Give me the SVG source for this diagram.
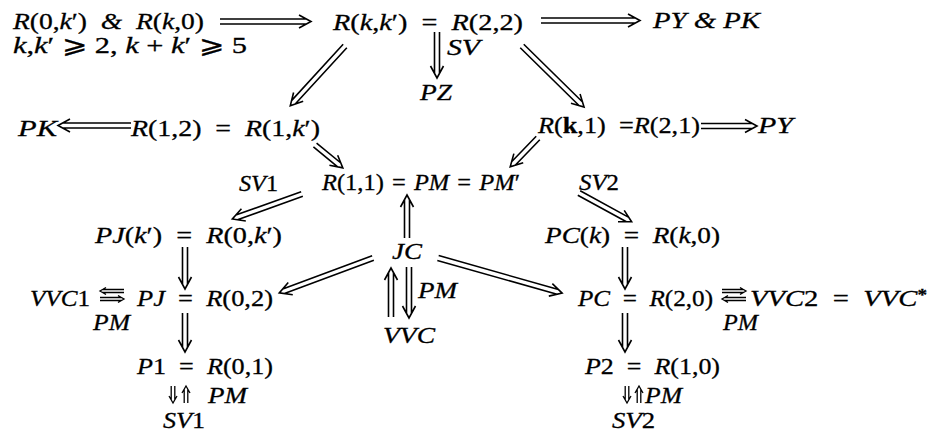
<svg xmlns="http://www.w3.org/2000/svg" width="937" height="433" viewBox="0 0 937 433">
<style>
text{font-family:"Liberation Serif","Times New Roman",serif;font-size:24px;fill:#000;stroke:#000;stroke-width:0.3}
.i{font-style:italic}
.b{font-weight:bold}
.a{fill:none;stroke:#000;stroke-width:1.6}
.s{fill:none;stroke:#000;stroke-width:1.3}
</style>
<rect width="937" height="433" fill="#fff"/>
<g id="n-start">
<text x="13" y="29" textLength="191" lengthAdjust="spacingAndGlyphs"><tspan class="i">R</tspan>(0,<tspan class="i">k</tspan>′)&#8194;<tspan class="i">&amp;</tspan>&#8194;<tspan class="i">R</tspan>(<tspan class="i">k</tspan>,0)</text>
<text x="13" y="53" font-size="23" textLength="234" lengthAdjust="spacingAndGlyphs"><tspan class="i">k</tspan>,<tspan class="i">k</tspan>′ ⩾ 2, <tspan class="i">k</tspan> + <tspan class="i">k</tspan>′ ⩾ 5</text>
</g>
<g id="n-R22"><text x="333" y="30" textLength="190" lengthAdjust="spacingAndGlyphs"><tspan class="i">R</tspan>(<tspan class="i">k</tspan>,<tspan class="i">k</tspan>′)&#8194;=&#8194;<tspan class="i">R</tspan>(2,2)</text></g>
<g id="n-PYPK"><text class="i" x="653" y="28" textLength="107" lengthAdjust="spacingAndGlyphs">PY &amp; PK</text></g>
<g id="n-PZ"><text class="i" x="420" y="100" textLength="32" lengthAdjust="spacingAndGlyphs">PZ</text></g>
<g id="n-PK"><text class="i" x="18" y="136" textLength="39" lengthAdjust="spacingAndGlyphs">PK</text></g>
<g id="n-R12"><text x="131" y="136" textLength="189" lengthAdjust="spacingAndGlyphs"><tspan class="i">R</tspan>(1,2)&#8194;=&#8194;<tspan class="i">R</tspan>(1,<tspan class="i">k</tspan>′)</text></g>
<g id="n-R21"><text x="538" y="133" textLength="162" lengthAdjust="spacingAndGlyphs"><tspan class="i">R</tspan>(<tspan class="b">k</tspan>,1)&#8194;=<tspan class="i">R</tspan>(2,1)</text></g>
<g id="n-PY"><text class="i" x="758" y="133" textLength="35" lengthAdjust="spacingAndGlyphs">PY</text></g>
<g id="n-R11"><text x="322" y="190" textLength="198" lengthAdjust="spacingAndGlyphs"><tspan class="i">R</tspan>(1,1)&#8196;=&#8196;<tspan class="i">PM</tspan>&#8196;=&#8196;<tspan class="i">PM</tspan>′</text></g>
<g id="n-PJk"><text x="95" y="243" textLength="187" lengthAdjust="spacingAndGlyphs"><tspan class="i">PJ</tspan>(<tspan class="i">k</tspan>′)&#8194;=&#8194;<tspan class="i">R</tspan>(0,<tspan class="i">k</tspan>′)</text></g>
<g id="n-PCk"><text x="545" y="243" textLength="175" lengthAdjust="spacingAndGlyphs"><tspan class="i">PC</tspan>(<tspan class="i">k</tspan>)&#8194;=&#8194;<tspan class="i">R</tspan>(<tspan class="i">k</tspan>,0)</text></g>
<g id="n-JC"><text class="i" x="392" y="259" textLength="30" lengthAdjust="spacingAndGlyphs">JC</text></g>
<g id="n-VVC"><text class="i" x="383" y="343" textLength="52" lengthAdjust="spacingAndGlyphs">VVC</text></g>
<g id="n-VVC1"><text x="30" y="306" textLength="60" lengthAdjust="spacingAndGlyphs"><tspan class="i">VVC</tspan>1</text></g>
<g id="n-PJ"><text x="137" y="306" textLength="136" lengthAdjust="spacingAndGlyphs"><tspan class="i">PJ</tspan>&#8194;=&#8194;<tspan class="i">R</tspan>(0,2)</text></g>
<g id="n-PC"><text x="578" y="306" textLength="135" lengthAdjust="spacingAndGlyphs"><tspan class="i">PC</tspan>&#8194;=&#8194;<tspan class="i">R</tspan>(2,0)</text></g>
<g id="n-VVC2"><text x="750" y="306" textLength="177" lengthAdjust="spacingAndGlyphs"><tspan class="i">VVC</tspan>2&#8194;=&#8194;<tspan class="i">VVC</tspan><tspan class="b" dy="-6" font-size="16">*</tspan></text></g>
<g id="n-P1"><text x="137" y="374" textLength="136" lengthAdjust="spacingAndGlyphs"><tspan class="i">P</tspan>1&#8194;=&#8194;<tspan class="i">R</tspan>(0,1)</text></g>
<g id="n-P2"><text x="585" y="374" textLength="135" lengthAdjust="spacingAndGlyphs"><tspan class="i">P</tspan>2&#8194;=&#8194;<tspan class="i">R</tspan>(1,0)</text></g>
<g id="n-SV1"><text x="163" y="428" textLength="42" lengthAdjust="spacingAndGlyphs"><tspan class="i">SV</tspan>1</text></g>
<g id="n-SV2"><text x="612" y="428" textLength="43" lengthAdjust="spacingAndGlyphs"><tspan class="i">SV</tspan>2</text></g>
<g id="connectors">
<path class="a" transform="translate(220 21.5)" d="M0-2.5H86.4M0 2.5H86.4M79-6.5L91 0L79 6.5"/>
<path class="a" transform="translate(541 20.5)" d="M0-2.5H94.4M0 2.5H94.4M87-6.5L99 0L87 6.5"/>
<path class="a" transform="translate(437 32) rotate(90)" d="M0-2.5H41.4M0 2.5H41.4M34-6.5L46 0L34 6.5"/>
<path class="a" transform="translate(345 46) rotate(132.5)" d="M0-2.5H76.4M0 2.5H76.4M69-6.5L81 0L69 6.5"/>
<path class="a" transform="translate(522 46) rotate(44.5)" d="M0-2.5H82.4M0 2.5H82.4M75-6.5L87 0L75 6.5"/>
<path class="a" transform="translate(131 125.5) rotate(180)" d="M0-2.5H68.4M0 2.5H68.4M61-6.5L73 0L61 6.5"/>
<path class="a" transform="translate(701 126)" d="M0-2.5H51.4M0 2.5H51.4M44-6.5L56 0L44 6.5"/>
<path class="a" transform="translate(315 145) rotate(39.4)" d="M0-2.5H31.4M0 2.5H31.4M24-6.5L36 0L24 6.5"/>
<path class="a" transform="translate(538 138) rotate(134)" d="M0-2.5H35.4M0 2.5H35.4M28-6.5L40 0L28 6.5"/>
<path class="a" transform="translate(302 194) rotate(160.3)" d="M0-2.5H69.4M0 2.5H69.4M62-6.5L74 0L62 6.5"/>
<path class="a" transform="translate(579 193) rotate(28.7)" d="M0-2.5H55.4M0 2.5H55.4M48-6.5L60 0L48 6.5"/>
<path class="a" transform="translate(407 238) rotate(-90)" d="M0-2.5H38.4M0 2.5H38.4M31-6.5L43 0L31 6.5"/>
<path class="a" transform="translate(373 258) rotate(159.6)" d="M0-2.5H95.4M0 2.5H95.4M88-6.5L100 0L88 6.5"/>
<path class="a" transform="translate(438 258) rotate(15.8)" d="M0-2.5H124.4M0 2.5H124.4M117-6.5L129 0L117 6.5"/>
<path class="a" transform="translate(391 317) rotate(-90)" d="M0-2.5H44.4M0 2.5H44.4M37-6.5L49 0L37 6.5"/>
<path class="a" transform="translate(409 267) rotate(90)" d="M0-2.5H46.4M0 2.5H46.4M39-6.5L51 0L39 6.5"/>
<path class="a" transform="translate(185 247) rotate(90)" d="M0-2.5H37.4M0 2.5H37.4M30-6.5L42 0L30 6.5"/>
<path class="a" transform="translate(185 313) rotate(90)" d="M0-2.5H34.4M0 2.5H34.4M27-6.5L39 0L27 6.5"/>
<path class="a" transform="translate(625 247) rotate(90)" d="M0-2.5H37.4M0 2.5H37.4M30-6.5L42 0L30 6.5"/>
<path class="a" transform="translate(625 313) rotate(90)" d="M0-2.5H34.4M0 2.5H34.4M27-6.5L39 0L27 6.5"/>
<path class="s" transform="translate(173 386) rotate(90)" d="M0-1.8H13.8M0 1.8H13.8M10-4L17 0L10 4"/>
<path class="s" transform="translate(186 403) rotate(-90)" d="M0-1.8H13.8M0 1.8H13.8M10-4L17 0L10 4"/>
<path class="s" transform="translate(627 386) rotate(90)" d="M0-1.8H13.8M0 1.8H13.8M10-4L17 0L10 4"/>
<path class="s" transform="translate(639 403) rotate(-90)" d="M0-1.8H13.8M0 1.8H13.8M10-4L17 0L10 4"/>
<path class="s" transform="translate(124 291) rotate(180)" d="M0-1.5H21.4M0 1.5H21.4M18-3.5L24 0L18 3.5"/>
<path class="s" transform="translate(100 299)" d="M0-1.5H21.4M0 1.5H21.4M18-3.5L24 0L18 3.5"/>
<path class="s" transform="translate(722 291)" d="M0-1.5H21.4M0 1.5H21.4M18-3.5L24 0L18 3.5"/>
<path class="s" transform="translate(746 299) rotate(180)" d="M0-1.5H21.4M0 1.5H21.4M18-3.5L24 0L18 3.5"/>
</g>
<g id="labels">
<text class="i" x="447" y="55" textLength="33" lengthAdjust="spacingAndGlyphs">SV</text>
<text x="239" y="191" textLength="39" lengthAdjust="spacingAndGlyphs"><tspan class="i">SV</tspan>1</text>
<text x="579" y="190" textLength="40" lengthAdjust="spacingAndGlyphs"><tspan class="i">SV</tspan>2</text>
<text class="i" x="418" y="298" textLength="39" lengthAdjust="spacingAndGlyphs">PM</text>
<text class="i" x="93" y="330" textLength="37" lengthAdjust="spacingAndGlyphs">PM</text>
<text class="i" x="723" y="330" textLength="35" lengthAdjust="spacingAndGlyphs">PM</text>
<text class="i" x="208" y="403" textLength="39" lengthAdjust="spacingAndGlyphs">PM</text>
<text class="i" x="645" y="403" textLength="37" lengthAdjust="spacingAndGlyphs">PM</text>
</g>
</svg>
